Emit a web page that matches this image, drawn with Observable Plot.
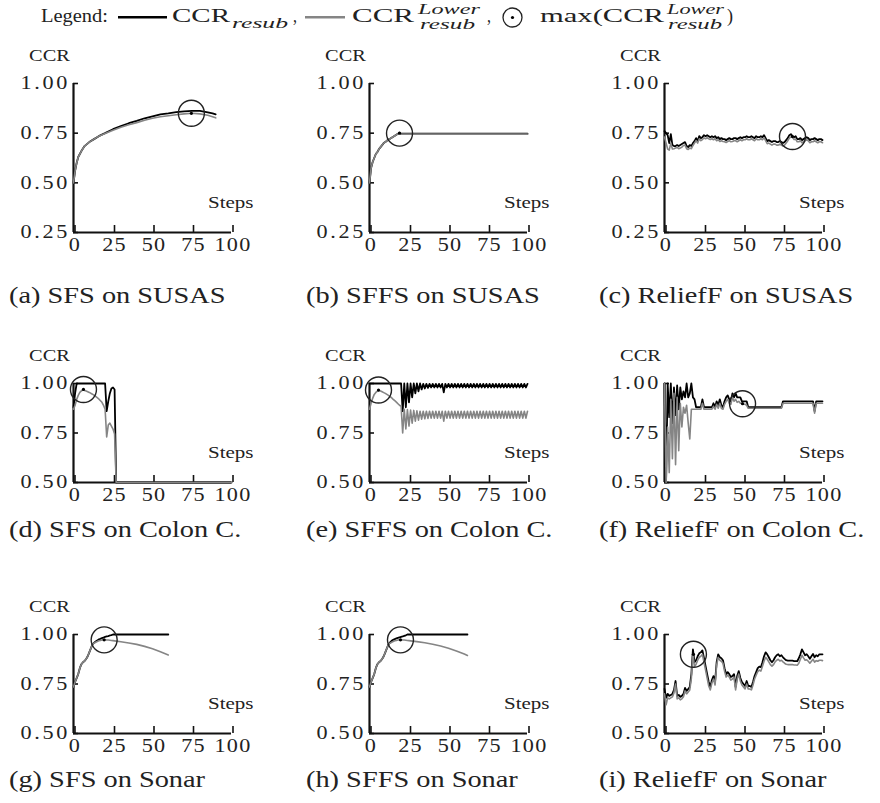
<!DOCTYPE html>
<html><head><meta charset="utf-8">
<script src="https://cdn.jsdelivr.net/npm/d3@7"></script>
<script src="https://cdn.jsdelivr.net/npm/@observablehq/plot@0.6"></script>
<style>
body{margin:0;background:#fff;}
#root{position:relative;width:880px;height:803px;overflow:hidden;font-family:"Liberation Serif","Times New Roman",Times,serif;color:#222;}
#root svg{position:absolute;}
#root svg text{font-family:"Liberation Serif","Times New Roman",Times,serif !important;}
</style></head><body><div id="root"></div>
<script>
// ---------- text ----------
const captions = ["(a) SFS on SUSAS","(b) SFFS on SUSAS","(c) ReliefF on SUSAS",
  "(d) SFS on Colon C.","(e) SFFS on Colon C.","(f) ReliefF on Colon C.",
  "(g) SFS on Sonar","(h) SFFS on Sonar","(i) ReliefF on Sonar"];
const yLabel = "CCR";
const xLabel = "Steps";
const xTicks = [0,25,50,75,100];
const yTicksTop = [0.25,0.5,0.75,1.0];
const yTicksLow = [0.5,0.75,1.0];

// ---------- (a) SFS on SUSAS ----------
const aSteps = [0,1,2,3,4,5,7,10,13,16,20,25,30,35,40,45,50,55,60,65,70,75,80,85,88,90];
const aCCR   = [0.50,0.56,0.60,0.63,0.645,0.66,0.685,0.705,0.72,0.735,0.75,0.77,0.785,0.80,0.812,0.825,0.835,0.845,0.85,0.856,0.86,0.862,0.862,0.855,0.85,0.845];
const aLower = [0.50,0.56,0.60,0.63,0.645,0.66,0.685,0.705,0.72,0.735,0.748,0.765,0.78,0.792,0.803,0.815,0.825,0.833,0.838,0.843,0.847,0.85,0.847,0.84,0.833,0.827];

// ---------- (b) SFFS on SUSAS ----------
const bSteps = [0,1,2,3,4,5,6,7,8,9,10,11,12,13,14,15,16,17,18,19,20,30,40,50,60,70,80,90,100];
const bCCR   = [0.50,0.575,0.605,0.625,0.645,0.655,0.67,0.68,0.69,0.70,0.705,0.712,0.718,0.722,0.727,0.732,0.737,0.742,0.747,0.752,0.747,0.747,0.747,0.747,0.747,0.747,0.747,0.747,0.747];
const bLower = [0.50,0.575,0.605,0.625,0.645,0.655,0.67,0.68,0.69,0.70,0.705,0.712,0.718,0.722,0.727,0.732,0.737,0.742,0.747,0.75,0.745,0.745,0.745,0.745,0.745,0.745,0.745,0.745,0.745];

// ---------- (c) ReliefF on SUSAS (steps 0..100) ----------
const cCCR = [0.76,0.75,0.74,0.70,0.745,0.69,0.685,0.685,0.69,0.685,
  0.69,0.695,0.70,0.705,0.685,0.68,0.69,0.685,0.70,0.71,
  0.725,0.71,0.735,0.725,0.73,0.74,0.735,0.74,0.735,0.73,
  0.735,0.73,0.735,0.725,0.73,0.72,0.725,0.72,0.72,0.715,
  0.72,0.725,0.72,0.72,0.725,0.725,0.72,0.725,0.73,0.725,
  0.73,0.73,0.735,0.73,0.73,0.735,0.73,0.725,0.735,0.73,
  0.73,0.735,0.73,0.74,0.725,0.71,0.715,0.71,0.705,0.71,
  0.71,0.705,0.705,0.71,0.705,0.70,0.705,0.715,0.725,0.74,
  0.745,0.735,0.73,0.735,0.72,0.72,0.725,0.715,0.72,0.725,
  0.73,0.725,0.715,0.72,0.72,0.725,0.72,0.715,0.72,0.72,0.715];
const cLower = [0.73,0.70,0.67,0.665,0.70,0.67,0.672,0.675,0.678,0.672,
  0.675,0.68,0.688,0.69,0.672,0.668,0.675,0.672,0.688,0.70,
  0.712,0.70,0.722,0.712,0.718,0.726,0.722,0.727,0.722,0.718,
  0.722,0.717,0.722,0.712,0.717,0.708,0.712,0.708,0.707,0.703,
  0.708,0.712,0.707,0.708,0.712,0.712,0.707,0.712,0.717,0.712,
  0.717,0.717,0.722,0.717,0.717,0.722,0.717,0.712,0.722,0.717,
  0.717,0.722,0.717,0.727,0.712,0.697,0.70,0.695,0.69,0.695,
  0.695,0.69,0.69,0.695,0.69,0.685,0.69,0.70,0.712,0.725,
  0.73,0.732,0.718,0.72,0.707,0.707,0.712,0.702,0.707,0.712,
  0.717,0.712,0.702,0.707,0.707,0.712,0.707,0.702,0.707,0.707,0.702];

// ---------- (d) SFS on Colon C. ----------
const dSteps = [0,1,2,3,4,5,6,7,8,10,12,14,16,18,19,20,21,22,23,24,25,26,27,28,40,60,80,100];
const dCCR   = [0.88,0.95,1,1,1,1,1,1,1,1,1,1,1,1,1,1,0.86,0.91,0.95,0.975,0.98,0.97,0.5,0.5,0.5,0.5,0.5,0.5];
const dLower = [0.87,0.89,0.92,0.94,0.955,0.963,0.967,0.965,0.962,0.955,0.946,0.935,0.922,0.905,0.89,0.87,0.73,0.79,0.80,0.785,0.77,0.745,0.5,0.5,0.5,0.5,0.5,0.5];

// ---------- (e) SFFS on Colon C. (steps 0..100) ----------
const eCCR = [1,1,1,1,1,1,1,1,1,1,1,1,1,1,1,1,1,1,1,1,1,
  0.86,1,0.88,1,0.905,1,0.93,1,0.95,1,0.96,1,0.97,0.998,0.975,0.998,0.978,0.998,0.98,0.998,
  0.98,0.998,0.98,0.998,0.98,0.998,0.955,0.998,0.98,0.998,
  0.98,0.998,0.98,0.998,0.98,0.998,0.98,0.998,0.98,0.998,
  0.98,0.998,0.98,0.998,0.98,0.998,0.98,0.998,0.98,0.998,
  0.98,0.998,0.98,0.998,0.98,0.998,0.98,0.998,0.98,0.998,
  0.98,0.998,0.98,0.998,0.98,0.998,0.98,0.998,0.98,0.998,
  0.98,0.998,0.98,0.998,0.98,0.998,0.98,0.998,0.98,0.998];
const eLower = [0.87,0.90,0.925,0.945,0.955,0.962,0.965,0.962,0.958,0.954,0.95,0.945,0.94,0.934,0.928,0.92,0.913,0.906,0.898,0.89,0.885,
  0.75,0.87,0.77,0.868,0.785,0.866,0.80,0.864,0.81,0.862,0.815,0.86,0.82,0.86,0.822,0.86,0.824,0.86,0.825,0.86,
  0.825,0.86,0.825,0.86,0.825,0.86,0.81,0.86,0.825,0.86,
  0.825,0.86,0.825,0.86,0.825,0.86,0.825,0.86,0.825,0.86,
  0.825,0.86,0.825,0.86,0.825,0.86,0.825,0.86,0.825,0.86,
  0.825,0.86,0.825,0.86,0.825,0.86,0.825,0.86,0.825,0.86,
  0.825,0.86,0.825,0.86,0.825,0.86,0.825,0.86,0.825,0.86,
  0.825,0.86,0.825,0.86,0.825,0.86,0.825,0.86,0.825,0.86];

// ---------- (f) ReliefF on Colon C. (steps 0..100) ----------
const fCCR = [1.0,0.5,1.0,0.83,1.0,0.8,0.98,0.84,0.99,0.87,0.98,0.92,0.96,0.93,1.0,0.93,0.95,1.0,0.93,0.92,0.88,
  0.88,0.88,0.88,0.92,0.88,0.88,0.88,0.88,0.88,0.88,
  0.9,0.88,0.91,0.89,0.92,0.89,0.88,0.91,0.93,0.94,
  0.92,0.91,0.95,0.93,0.95,0.93,0.93,0.93,0.91,0.91,
  0.91,0.91,0.88,
  0.88,0.88,0.88,0.88,0.88,0.88,0.88,0.88,0.88,0.88,0.88,0.88,0.88,0.88,0.88,0.88,0.88,0.88,0.88,0.88,0.88,
  0.91,
  0.91,0.91,0.91,0.91,0.91,0.91,0.91,0.91,0.91,0.91,0.91,0.91,0.91,0.91,0.91,0.91,0.91,0.91,0.91,
  0.86,
  0.91,0.91,0.91,0.91,0.91];
const fLower = [1.0,0.5,0.78,0.55,0.92,0.62,0.95,0.59,0.93,0.66,0.9,0.78,0.88,0.85,0.89,0.8,0.72,0.87,0.87,0.87,0.87,
  0.87,0.87,0.87,0.9,0.87,0.87,0.87,0.87,0.87,0.87,
  0.885,0.87,0.895,0.875,0.9,0.875,0.87,0.895,0.91,0.92,
  0.9,0.895,0.93,0.91,0.92,0.905,0.91,0.9,0.9,0.895,
  0.895,0.89,0.875,
  0.875,0.875,0.875,0.875,0.875,0.875,0.875,0.875,0.875,0.875,0.875,0.875,0.875,0.875,0.875,0.875,0.875,0.875,0.875,0.875,0.875,
  0.9,
  0.9,0.9,0.9,0.9,0.9,0.9,0.9,0.9,0.9,0.9,0.9,0.9,0.9,0.9,0.9,0.9,0.9,0.9,0.9,
  0.85,
  0.9,0.9,0.9,0.9,0.9];

// ---------- (g) SFS on Sonar ----------
const gSteps = [0,1,2,3,4,5,6,7,8,9,10,11,12,13,14,15,16,17,18,19,20,21,22,23,24,25,26,30,35,40,45,50,55,60];
const gCCR   = [0.735,0.76,0.78,0.80,0.83,0.85,0.86,0.866,0.876,0.89,0.91,0.93,0.95,0.958,0.965,0.97,0.975,0.978,0.982,0.985,0.988,0.99,0.992,0.995,0.997,1,1,1,1,1,1,1,1,1];
const gLower = [0.735,0.76,0.78,0.80,0.83,0.85,0.86,0.866,0.876,0.89,0.91,0.93,0.95,0.956,0.961,0.965,0.968,0.97,0.972,0.973,0.973,0.972,0.972,0.971,0.97,0.969,0.968,0.963,0.957,0.95,0.94,0.928,0.913,0.897];

// ---------- (h) SFFS on Sonar ----------
const hSteps = [0,1,2,3,4,5,6,7,8,9,10,11,12,13,14,15,16,17,18,19,20,21,22,23,24,25,26,30,35,40,45,50,55,60,62];
const hCCR   = [0.735,0.76,0.78,0.80,0.83,0.85,0.86,0.866,0.876,0.89,0.91,0.93,0.95,0.96,0.968,0.973,0.977,0.98,0.983,0.986,0.988,0.99,0.993,0.996,1,1,1,1,1,1,1,1,1,1,1];
const hLower = [0.735,0.76,0.78,0.80,0.83,0.85,0.86,0.866,0.876,0.89,0.91,0.93,0.95,0.956,0.961,0.965,0.968,0.97,0.972,0.973,0.973,0.972,0.972,0.971,0.97,0.969,0.968,0.964,0.958,0.951,0.942,0.931,0.917,0.901,0.894];

// ---------- (i) ReliefF on Sonar (steps 0..100) ----------
const iCCR = [0.725,0.68,0.70,0.69,0.695,0.70,0.72,0.765,0.69,0.695,
  0.685,0.69,0.70,0.73,0.715,0.725,0.735,0.80,0.925,0.86,
  0.87,0.89,0.905,0.91,0.92,0.88,0.84,0.80,0.76,0.735,
  0.77,0.79,0.76,0.86,0.90,0.885,0.88,0.87,0.83,0.80,
  0.81,0.80,0.785,0.79,0.80,0.735,0.79,0.815,0.78,0.76,
  0.75,0.74,0.765,0.74,0.74,0.735,0.76,0.79,0.81,0.83,
  0.838,0.835,0.86,0.89,0.91,0.90,0.885,0.87,0.86,0.87,
  0.885,0.895,0.90,0.89,0.895,0.885,0.877,0.87,0.868,0.868,
  0.868,0.868,0.866,0.866,0.865,0.88,0.90,0.925,0.91,0.895,
  0.90,0.89,0.877,0.89,0.902,0.885,0.895,0.89,0.9,0.9,0.9];
const iLower = [0.70,0.645,0.68,0.675,0.68,0.685,0.705,0.75,0.675,0.68,
  0.67,0.675,0.685,0.715,0.70,0.71,0.72,0.78,0.90,0.835,
  0.85,0.87,0.885,0.89,0.90,0.86,0.82,0.78,0.74,0.72,
  0.755,0.775,0.745,0.845,0.885,0.87,0.865,0.855,0.815,0.785,
  0.795,0.785,0.77,0.775,0.785,0.72,0.775,0.80,0.765,0.745,
  0.735,0.725,0.75,0.725,0.725,0.72,0.745,0.775,0.795,0.812,
  0.82,0.815,0.84,0.865,0.885,0.875,0.862,0.848,0.84,0.848,
  0.862,0.87,0.875,0.866,0.87,0.862,0.855,0.85,0.848,0.848,
  0.848,0.848,0.846,0.846,0.845,0.855,0.875,0.895,0.882,0.87,
  0.872,0.865,0.855,0.865,0.875,0.86,0.868,0.865,0.87,0.87,0.868];

// ---------- circled maxima of the lower bound ----------
const maxSteps  = [74.6, 19, 81, 6.3, 5.7, 49.4, 19.4, 19.6, 18.3];
const maxValues = [0.85, 0.75, 0.733, 0.97, 0.967, 0.898, 0.973, 0.973, 0.90];

// ---------- build ----------
const SERIF = '"Liberation Serif","Times New Roman",Times,serif';
const steps0to100 = d3.range(0, 101);
const panels = [
  [aSteps, aCCR, aLower], [bSteps, bCCR, bLower], [steps0to100, cCCR, cLower],
  [dSteps, dCCR, dLower], [steps0to100, eCCR, eLower], [steps0to100, fCCR, fLower],
  [gSteps, gCCR, gLower], [hSteps, hCCR, hLower], [steps0to100, iCCR, iLower]
];
const root = document.getElementById("root");
const axisXpos = [72.7, 369, 664];
const rowTop = [83.3, 382.7, 634];
const ML = 70, MR = 62, MT = 40, MB = 30;

function stretchText(svg, sx) {
  svg.querySelectorAll("text").forEach(t => {
    const g = t.closest("g[aria-label]");
    const role = g ? g.getAttribute("aria-label") : "";
    if (/y-axis tick label/.test(role)) t.style.letterSpacing = "2.2px";
    else if (/x-axis tick label/.test(role)) t.style.letterSpacing = "1px";
    const xa = t.getAttribute("x");
    const x = xa && !/em/.test(xa) ? (parseFloat(xa) || 0) : 0;
    const tr = t.getAttribute("transform") || "";
    t.setAttribute("transform", `${tr} translate(${x},0) scale(${sx},1) translate(${-x},0)`);
  });
}

panels.forEach(([steps, ccr, lower], i) => {
  const row = Math.floor(i / 3), col = i % 3;
  const yDomain = row === 0 ? [0.25, 1] : [0.5, 1];
  const yTicks = row === 0 ? yTicksTop : yTicksLow;
  const innerH = row === 0 ? 149 : 99;
  const data = steps.map((s, k) => ({step: s, ccr: ccr[k], lower: lower[k]}));
  const maxPt = [{step: maxSteps[i], v: maxValues[i]}];
  const svg = Plot.plot({
    width: ML + 158 + MR, height: MT + innerH + MB,
    marginLeft: ML, marginRight: MR, marginTop: MT, marginBottom: MB,
    x: {domain: [0, 100]}, y: {domain: yDomain},
    style: {fontFamily: SERIF, fontSize: "18px", color: "#222", background: "transparent", overflow: "visible"},
    marks: [
      Plot.axisX({ticks: xTicks, label: null, tickSize: -7, tickPadding: 12, dx: 1.5, tickFormat: d => String(d), stroke: "#111", strokeWidth: 1.6, fill: "#222", fontSize: 18.5}),
      Plot.axisY({ticks: yTicks, label: null, tickSize: -5, tickPadding: 8.5, tickFormat: d3.format(".2f"), stroke: "#111", strokeWidth: 1.6, fill: "#222", fontSize: 18.5}),
      Plot.ruleX([0], {stroke: "#111", strokeWidth: 2.2}),
      Plot.ruleY([yDomain[0]], {stroke: "#111", strokeWidth: 2.2}),
      Plot.line(data, {x: "step", y: "ccr", stroke: "#000", strokeWidth: 1.8}),
      Plot.line(data, {x: "step", y: "lower", stroke: "#858585", strokeWidth: 1.6}),
      Plot.dot(maxPt, {x: "step", y: "v", r: 13, stroke: "#222", strokeWidth: 1.4, fill: "none"}),
      Plot.dot(maxPt, {x: "step", y: "v", r: 1.6, fill: "#000", stroke: null}),
      Plot.text([yLabel], {text: d => d, frameAnchor: "top-left", dx: -24, dy: -28, textAnchor: "middle", lineAnchor: "middle", fontSize: 17, fill: "#222"}),
      Plot.text([xLabel], {text: d => d, frameAnchor: "bottom-right", dx: 22, dy: -30, textAnchor: "end", lineAnchor: "middle", fontSize: 17.5, fill: "#222"})
    ]
  });
  stretchText(svg, 1.2);
  svg.style.position = "absolute";
  svg.style.left = (axisXpos[col] - ML) + "px";
  svg.style.top = (rowTop[row] - MT) + "px";
  root.appendChild(svg);
});

// ---------- overlay: legend + captions ----------
const ov = d3.select(root).append("svg").attr("width", 880).attr("height", 803)
  .style("left", "0px").style("top", "0px").style("pointer-events", "none")
  .style("font-family", SERIF).attr("fill", "#222");

const capX = [9, 306, 599];
const capY = [303, 536.7, 786.7];
captions.forEach((c, i) => {
  const row = Math.floor(i / 3), col = i % 3;
  ov.append("text").attr("font-size", 22.5)
    .attr("transform", `translate(${capX[col]},${capY[row]}) scale(1.26,1)`)
    .text(c);
});

const lg = ov.append("g");
const T = (s, x, y, len, size, italic) => lg.append("text").attr("x", x).attr("y", y)
  .attr("font-size", size).attr("font-style", italic ? "italic" : null)
  .attr("textLength", len).attr("lengthAdjust", "spacingAndGlyphs").text(s);
T("Legend:", 41, 22, 67, 18, false);
lg.append("line").attr("x1", 118).attr("x2", 167).attr("y1", 17.3).attr("y2", 17.3).attr("stroke", "#000").attr("stroke-width", 2.6);
T("CCR", 172, 22, 58, 18, false);
T("resub", 232, 28, 56, 14, true);
T(",", 293, 22, 4, 18, false);
lg.append("line").attr("x1", 305).attr("x2", 345).attr("y1", 17.3).attr("y2", 17.3).attr("stroke", "#858585").attr("stroke-width", 2.6);
T("CCR", 352, 22, 62, 18, false);
T("Lower", 418, 14, 62, 14, true);
T("resub", 420, 28.5, 55, 14, true);
T(",", 487, 22, 4, 18, false);
lg.append("circle").attr("cx", 512.5).attr("cy", 17.5).attr("r", 9.5).attr("fill", "none").attr("stroke", "#222").attr("stroke-width", 1.3);
lg.append("circle").attr("cx", 512.5).attr("cy", 17.5).attr("r", 1.6).attr("fill", "#000");
T("max(CCR", 540, 22, 124, 18, false);
T("Lower", 667, 14, 57, 14, true);
T("resub", 668, 28.5, 54, 14, true);
T(")", 727, 22, 6, 18, false);
</script></body></html>
